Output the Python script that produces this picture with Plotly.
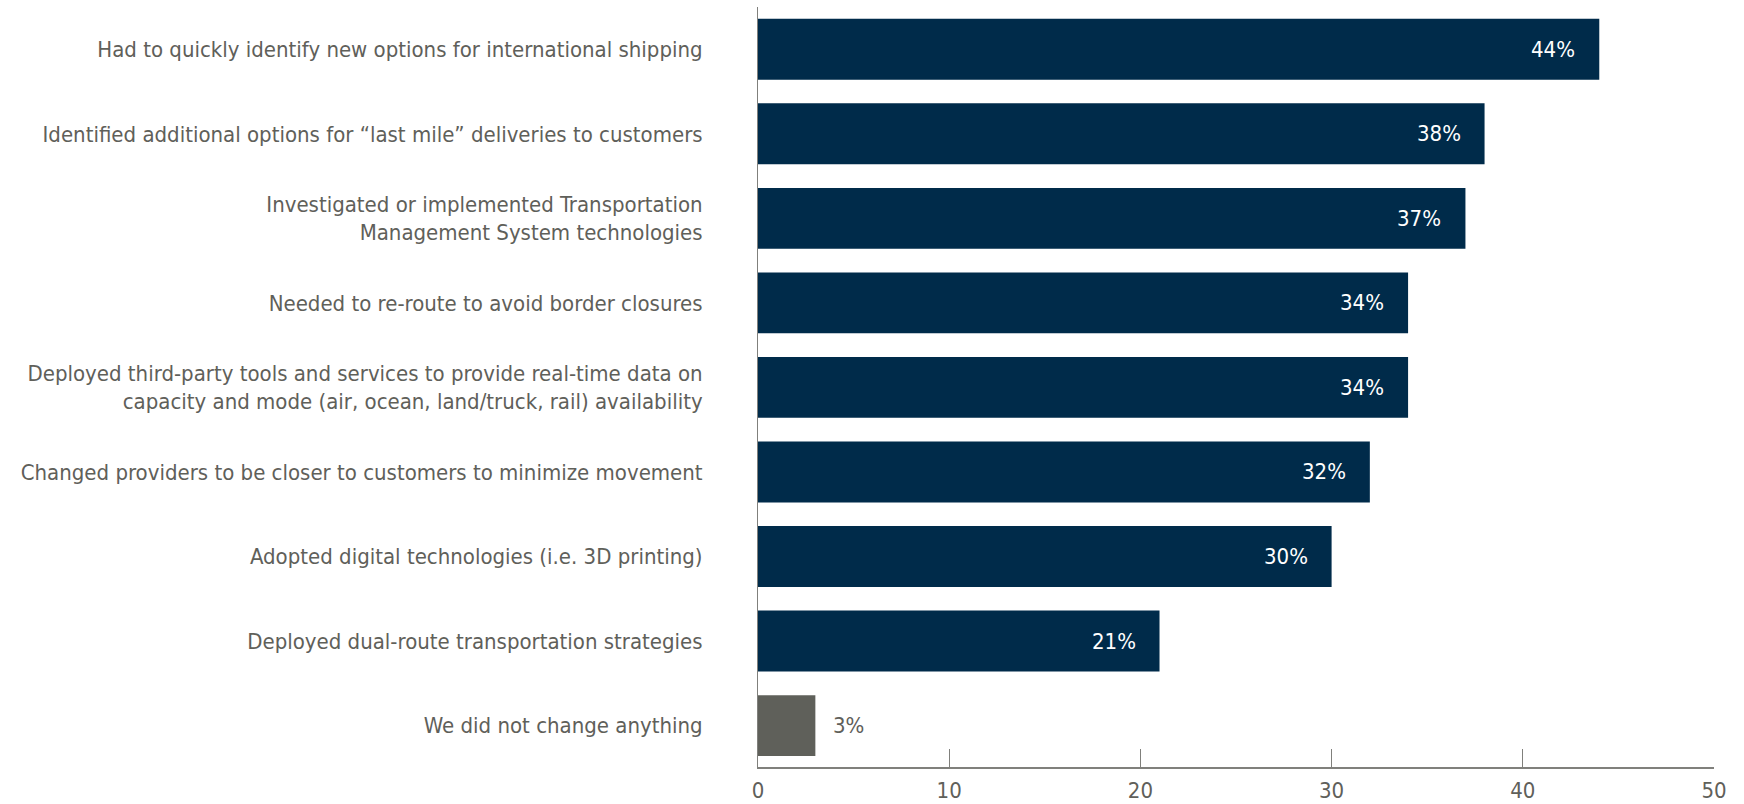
import plotly.graph_objects as go

categories = [
    "Had to quickly identify new options for international shipping",
    "Identified additional options for \u201clast mile\u201d deliveries to customers",
    "Investigated or implemented Transportation<br>Management System technologies",
    "Needed to re-route to avoid border closures",
    "Deployed third-party tools and services to provide real-time data on<br>capacity and mode (air, ocean, land/truck, rail) availability",
    "Changed providers to be closer to customers to minimize movement",
    "Adopted digital technologies (i.e. 3D printing)",
    "Deployed dual-route transportation strategies",
    "We did not change anything",
]
values = [44, 38, 37, 34, 34, 32, 30, 21, 3]
labels = ["44%", "38%", "37%", "34%", "34%", "32%", "30%", "21%", "3%"]

NAVY = "#002b4a"
GRAY_BAR = "#5f605a"
TEXT = "#5f605a"
AXIS = "#80807c"
FONT = "DejaVu Sans Condensed, Liberation Sans Narrow, sans-serif"

bar_colors = [GRAY_BAR if c == "We did not change anything" else NAVY for c in categories]

fig = go.Figure(
    go.Bar(
        x=values,
        y=categories,
        orientation="h",
        marker=dict(color=bar_colors, line=dict(width=0)),
        width=0.72,
        hoverinfo="skip",
    )
)

# value labels: white inside the navy bars, gray beside the small gray bar
for cat, val, lab, col in zip(categories, values, labels, bar_colors):
    inside = col == NAVY
    fig.add_annotation(
        x=val,
        y=cat,
        text=lab,
        showarrow=False,
        xanchor="right" if inside else "left",
        xshift=-22 if inside else 16,
        font=dict(family=FONT, size=22, color="white" if inside else TEXT),
    )

fig.update_layout(
    width=1744,
    height=804,
    margin=dict(l=758, r=30, t=7, b=37),
    paper_bgcolor="white",
    plot_bgcolor="white",
    showlegend=False,
    font=dict(family=FONT, size=22, color=TEXT),
    xaxis=dict(
        range=[0, 50],
        tickvals=[0, 10, 20, 30, 40, 50],
        ticks="inside",
        ticklen=18,
        tickwidth=1,
        tickcolor=AXIS,
        showgrid=False,
        zeroline=False,
        showline=True,
        linecolor=AXIS,
        linewidth=2,
        ticklabelstandoff=3,
        automargin=False,
        tickfont=dict(family=FONT, size=22, color=TEXT),
        fixedrange=True,
    ),
    yaxis=dict(
        categoryorder="array",
        categoryarray=categories,
        range=[8.49, -0.5],
        showgrid=False,
        zeroline=False,
        showline=True,
        linecolor=AXIS,
        linewidth=1,
        ticks="",
        ticklabelstandoff=50,
        automargin=False,
        tickfont=dict(family=FONT, size=22, color=TEXT),
        fixedrange=True,
    ),
)

fig.write_html("out.html")
